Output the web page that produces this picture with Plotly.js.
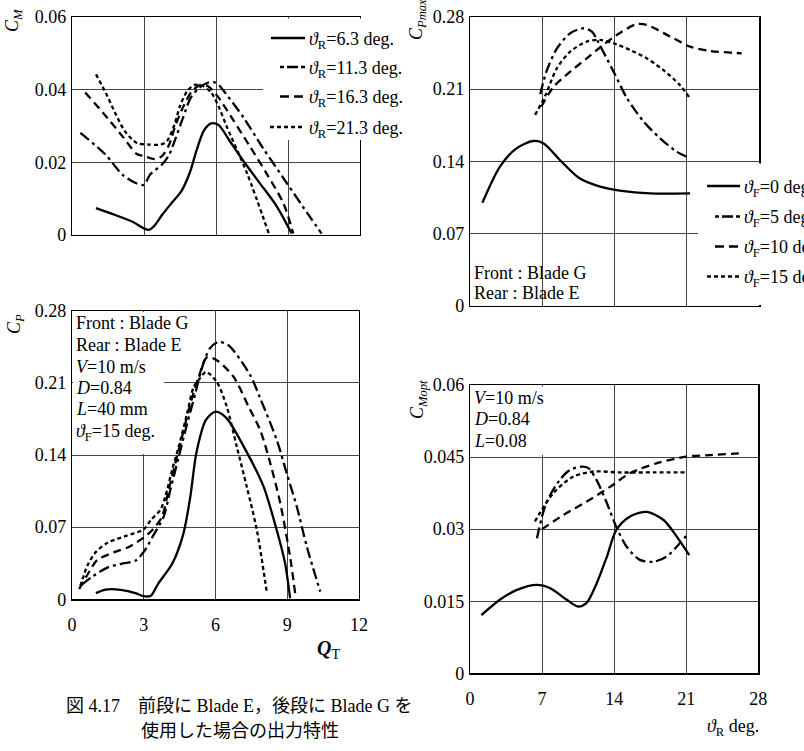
<!DOCTYPE html>
<html>
<head>
<meta charset="utf-8">
<script src="https://cdn.plot.ly/plotly-3.0.1.min.js"></script>
<style>html,body{margin:0;padding:0;background:#fff;}#chart{width:804px;height:751px;}</style>
</head>
<body>
<div id="chart"></div>
<script>
// ---------- DATA ----------
// Top-left: C_M vs Q_T
const qt_63  = [1.0, 1.8, 2.5, 3.0, 3.2, 3.4, 3.75, 4.15, 4.55, 4.9, 5.2, 5.5, 5.8, 6.1, 6.6, 7.15, 7.8, 8.5, 9.15];
const cm_63  = [0.0074, 0.0055, 0.0037, 0.0018, 0.0014, 0.0023, 0.0055, 0.0088, 0.012, 0.017, 0.0235, 0.0288, 0.0307, 0.0303, 0.0256, 0.0203, 0.0145, 0.0082, 0.0004];
const qt_113 = [0.35, 1.4, 2.1, 2.65, 3.0, 3.25, 3.75, 4.05, 4.3, 4.6, 4.95, 5.3, 5.65, 5.9, 6.1, 6.4, 7.15, 7.95, 8.95, 9.9, 10.4];
const cm_113 = [0.0281, 0.0221, 0.0166, 0.0143, 0.0138, 0.0166, 0.0194, 0.0221, 0.0263, 0.0318, 0.0378, 0.0405, 0.0419, 0.0421, 0.0414, 0.039, 0.0323, 0.024, 0.0143, 0.0051, 0.0004];
const qt_163 = [0.55, 1.3, 2.1, 2.7, 3.0, 3.45, 3.75, 4.05, 4.3, 4.65, 5.0, 5.35, 5.65, 6.03, 6.72, 7.42, 8.11, 8.81, 9.22];
const cm_163 = [0.0392, 0.0336, 0.0272, 0.0223, 0.0217, 0.0209, 0.0217, 0.0249, 0.03, 0.0355, 0.0396, 0.0413, 0.041, 0.0385, 0.0316, 0.0243, 0.0169, 0.0087, 0.0004];
const qt_213 = [1.0, 1.4, 1.8, 2.2, 2.7, 3.2, 3.7, 3.95, 4.25, 4.5, 4.8, 5.1, 5.45, 5.8, 6.1, 6.45, 7.3, 8.2];
const cm_213 = [0.0442, 0.0392, 0.0336, 0.0286, 0.0253, 0.0249, 0.0249, 0.0258, 0.03, 0.0355, 0.0396, 0.0413, 0.041, 0.0392, 0.0355, 0.0298, 0.0169, 0.0004];

// Bottom-left: C_P vs Q_T
const q2_63  = [1.0, 1.4, 2.1, 2.65, 3.0, 3.3, 3.6, 4.2, 4.65, 4.95, 5.2, 5.6, 6.0, 6.45, 7.3, 8.0, 8.55, 8.9, 9.12];
const cp_63  = [0.006, 0.0095, 0.009, 0.006, 0.003, 0.0035, 0.015, 0.035, 0.063, 0.1, 0.142, 0.174, 0.182, 0.176, 0.143, 0.11, 0.068, 0.036, 0.001];
const q2_113 = [0.4, 0.85, 1.5, 2.2, 2.65, 3.0, 3.4, 3.83, 4.11, 4.46, 4.81, 5.16, 5.4, 5.75, 6.12, 6.54, 7.45, 7.87, 8.57, 8.98, 9.4, 9.82, 10.38];
const cp_113 = [0.014, 0.022, 0.031, 0.035, 0.0375, 0.046, 0.062, 0.08, 0.106, 0.138, 0.17, 0.2, 0.222, 0.243, 0.2497, 0.2465, 0.2175, 0.195, 0.154, 0.122, 0.0898, 0.051, 0.0074];
const q2_163 = [0.3, 0.7, 1.05, 1.8, 2.4, 3.0, 3.35, 3.76, 4.04, 4.32, 4.67, 4.95, 5.3, 5.65, 6.05, 6.75, 7.38, 7.87, 8.29, 8.71, 9.12, 9.33];
const cp_163 = [0.01, 0.026, 0.038, 0.046, 0.051, 0.06, 0.067, 0.08, 0.106, 0.132, 0.164, 0.19, 0.216, 0.235, 0.232, 0.216, 0.187, 0.164, 0.132, 0.093, 0.041, 0.006];
const q2_213 = [0.35, 0.65, 1.0, 1.5, 2.2, 3.0, 3.3, 3.7, 3.9, 4.18, 4.46, 4.81, 5.09, 5.37, 5.6, 6.05, 6.47, 6.89, 7.31, 7.73, 8.15];
const cp_213 = [0.013, 0.033, 0.046, 0.055, 0.061, 0.068, 0.077, 0.087, 0.0995, 0.125, 0.148, 0.18, 0.206, 0.215, 0.2206, 0.211, 0.187, 0.148, 0.109, 0.067, 0.006];

// Top-right: C_Pmax vs theta_R
const th_f0  = [1.2, 2.9, 4.5, 6.1, 7.1, 8.7, 10.6, 12.6, 14.5, 17.4, 21.3];
const cpm_f0 = [0.1, 0.135, 0.1526, 0.1597, 0.1575, 0.1413, 0.1236, 0.1155, 0.1117, 0.109, 0.109];
const th_f5  = [6.8, 7.4, 8.4, 9.7, 11.0, 11.8, 12.3, 12.9, 13.9, 15.2, 16.8, 18.4, 20.0, 21.3];
const cpm_f5 = [0.205, 0.227, 0.249, 0.264, 0.2688, 0.2656, 0.2575, 0.246, 0.2268, 0.201, 0.1785, 0.1623, 0.1494, 0.143];
const th_f10 = [6.9, 8.1, 9.7, 11.3, 12.9, 14.2, 16.1, 17.1, 19.4, 21.3, 23.2, 26.3];
const cpm_f10= [0.193, 0.2123, 0.2268, 0.2397, 0.2527, 0.2623, 0.2727, 0.272, 0.2607, 0.251, 0.2469, 0.2446];
const th_f15 = [6.3, 7.3, 8.4, 9.7, 11.3, 12.6, 13.9, 15.5, 17.1, 18.7, 20.3, 21.3];
const cpm_f15= [0.185, 0.204, 0.23, 0.2462, 0.2559, 0.2575, 0.2543, 0.2478, 0.2397, 0.2285, 0.214, 0.201];

// Bottom-right: C_Mopt vs theta_R
const tb_f0  = [1.1, 2.9, 4.5, 6.5, 7.8, 9.4, 10.5, 11.3, 12.3, 13.3, 14.2, 15.5, 17.2, 18.8, 20.1, 21.3];
const cmo_f0 = [0.0121, 0.0153, 0.0173, 0.0184, 0.0177, 0.0153, 0.0139, 0.0146, 0.0187, 0.0243, 0.0298, 0.0326, 0.0336, 0.0319, 0.0284, 0.0246];
const tb_f5  = [6.5, 7.4, 8.7, 9.7, 10.8, 11.5, 12.3, 13.3, 14.2, 15.2, 16.5, 17.8, 19.1, 20.4, 21.2];
const cmo_f5 = [0.0281, 0.0354, 0.0402, 0.0423, 0.043, 0.0427, 0.0402, 0.0354, 0.0305, 0.0264, 0.0236, 0.0232, 0.0243, 0.0271, 0.0291];
const tb_f10 = [7.0, 9.1, 11.3, 13.6, 15.5, 18.1, 21.0, 23.3, 26.4];
const cmo_f10= [0.03, 0.033, 0.0357, 0.0388, 0.0416, 0.0437, 0.0451, 0.0454, 0.0458];
const tb_f15 = [6.3, 8.1, 10.0, 12.0, 14.5, 17.8, 21.0];
const cmo_f15= [0.0316, 0.0375, 0.0409, 0.042, 0.0418, 0.0418, 0.0418];

const legendR = ['=6.3 deg.', '=11.3 deg.', '=16.3 deg.', '=21.3 deg.'];
const legendF = ['=0 deg.', '=5 deg.', '=10 deg.', '=15 deg.'];

// ---------- STYLE ----------
const FONT = 'Liberation Serif';
const CJKFONT = 'Liberation Serif, Noto Sans CJK JP';
const W = 804, H = 751;
const px = x => x / W;
const py = y => 1 - y / H;
const SOLID = 'solid', DASHDOT = '11px,4px,3px,4px', DASHED = '8px,5px', DOTTED = '4px,3px';
const LW = 2.3;

function tr(x, y, dash, xa, ya) {
  return {x: x, y: y, xaxis: xa, yaxis: ya, type: 'scatter', mode: 'lines',
    line: {color: '#000', width: LW, dash: dash, shape: 'spline', smoothing: 0.8},
    showlegend: false, hoverinfo: 'skip'};
}

const data = [
  tr(qt_63, cm_63, SOLID, 'x', 'y'), tr(qt_113, cm_113, DASHDOT, 'x', 'y'),
  tr(qt_163, cm_163, DASHED, 'x', 'y'), tr(qt_213, cm_213, DOTTED, 'x', 'y'),
  tr(q2_63, cp_63, SOLID, 'x2', 'y2'), tr(q2_113, cp_113, DASHDOT, 'x2', 'y2'),
  tr(q2_163, cp_163, DASHED, 'x2', 'y2'), tr(q2_213, cp_213, DOTTED, 'x2', 'y2'),
  tr(th_f0, cpm_f0, SOLID, 'x3', 'y3'), tr(th_f5, cpm_f5, DASHDOT, 'x3', 'y3'),
  tr(th_f10, cpm_f10, DASHED, 'x3', 'y3'), tr(th_f15, cpm_f15, DOTTED, 'x3', 'y3'),
  tr(tb_f0, cmo_f0, SOLID, 'x4', 'y4'), tr(tb_f5, cmo_f5, DASHDOT, 'x4', 'y4'),
  tr(tb_f10, cmo_f10, DASHED, 'x4', 'y4'), tr(tb_f15, cmo_f15, DOTTED, 'x4', 'y4')
];

function ax(domain, range, dtick, labels, anchor, isX) {
  const a = {domain: domain, range: range, dtick: dtick, tick0: 0, anchor: anchor,
    showgrid: true, gridcolor: '#444', gridwidth: 1, zeroline: false,
    showline: true, mirror: true, linecolor: '#000', linewidth: 1.2,
    ticks: '', showticklabels: labels, fixedrange: true,
    tickfont: {family: FONT, size: 18, color: '#000'}};
  a.ticklabelstandoff = isX ? 9 : 1;
  return a;
}

const layout = {
  width: W, height: H, margin: {l: 0, r: 0, t: 0, b: 0},
  paper_bgcolor: '#fff', plot_bgcolor: '#fff', showlegend: false,
  font: {family: FONT, size: 18, color: '#000'},
  xaxis:  ax([px(72), px(360)], [0, 12], 3, false, 'y', true),
  yaxis:  ax([py(235), py(17)], [0, 0.06], 0.02, true, 'x', false),
  xaxis2: ax([px(72), px(359)], [0, 12], 3, true, 'y2', true),
  yaxis2: ax([py(599.3), py(310.7)], [0, 0.28], 0.07, true, 'x2', false),
  xaxis3: ax([px(470), px(759.3)], [0, 28], 7, false, 'y3', true),
  yaxis3: ax([py(306), py(16.7)], [0, 0.28], 0.07, true, 'x3', false),
  xaxis4: ax([px(470), px(758.3)], [0, 28], 7, true, 'y4', true),
  yaxis4: ax([py(673.3), py(385)], [0, 0.06], 0.015, true, 'x4', false),
  shapes: [],
  annotations: []
};

const S = layout.shapes, A = layout.annotations;
function rect(x0, y0, x1, y1) {
  S.push({type: 'rect', xref: 'paper', yref: 'paper', x0: px(x0), x1: px(x1), y0: py(y1), y1: py(y0),
    fillcolor: '#fff', line: {width: 0}, layer: 'above'});
}
function seg(x0, x1, y, dash) {
  S.push({type: 'line', xref: 'paper', yref: 'paper', x0: px(x0), x1: px(x1), y0: py(y), y1: py(y),
    line: {color: '#000', width: LW, dash: dash}, layer: 'above'});
}
function txt(t, x, y, opts) {
  A.push(Object.assign({text: t, xref: 'paper', yref: 'paper', x: px(x), y: py(y),
    xanchor: 'left', yanchor: 'middle', showarrow: false,
    font: {family: FONT, size: 18, color: '#000'}}, opts || {}));
}

// white areas under the text blocks (hide grid)
rect(263, 18.5, 363, 140);     // top-left legend
rect(73, 312, 164, 454);       // bottom-left text
rect(698, 163.5, 763, 305);    // top-right legend
rect(471, 386.5, 560, 455);    // bottom-right text

// top-left legend
const rowsL = [38, 67, 96.5, 127];
const startL = [271, 280, 280, 270];
const legDash = [SOLID, '4px,3px,11px,3px', '9px,5px', DOTTED];
rowsL.forEach((yy, i) => {
  seg(startL[i], 305, yy, legDash[i]);
  txt('<i>ϑ</i><sub>R</sub>' + legendR[i], 307, yy + 2);
});
// top-right legend (cut off at the right edge as in the source figure)
const rowsR = [186, 216.5, 246.5, 276.5];
const startR = [707, 715, 715, 707];
rowsR.forEach((yy, i) => {
  seg(startR[i], 740, yy, legDash[i]);
  txt('<i>ϑ</i><sub>F</sub>' + legendF[i], 742, yy + 2);
});

// text blocks
const blBlock = ['Front : Blade G', 'Rear : Blade E', '<i>V</i>=10 m/s', '<i>D</i>=0.84', '<i>L</i>=40 mm', '<i>ϑ</i><sub>F</sub>=15 deg.'];
const blY = [323, 345, 367, 388, 409, 432];
blBlock.forEach((t, i) => txt(t, 74, blY[i]));
txt('Front : Blade G', 472, 273);
txt('Rear : Blade E', 472, 293);
const brBlock = ['<i>V</i>=10 m/s', '<i>D</i>=0.84', '<i>L</i>=0.08'];
const brY = [398, 419.5, 441];
brBlock.forEach((t, i) => txt(t, 472, brY[i]));

// axis titles
const rot = {textangle: -90, xanchor: 'center', yanchor: 'middle'};
txt('<i>C</i><sub><i>M</i></sub>', 14, 20, rot);
txt('<i>C</i><sub><i>P</i></sub>', 15, 324, rot);
txt('<i>C</i><sub><i>Pmax</i></sub>', 418, 20, rot);
txt('<i>C</i><sub><i>Mopt</i></sub>', 418, 400, rot);
txt('<b><i>Q</i></b><sub>T</sub>', 328, 649, {xanchor: 'center', font: {family: FONT, size: 20, color: '#000'}});
txt('<i>ϑ</i><sub>R</sub> deg.', 733, 727, {xanchor: 'center'});

// caption
txt('図 4.17　前段に Blade E，後段に Blade G を', 64, 706, {font: {family: CJKFONT, size: 18, color: '#000'}});
txt('使用した場合の出力特性', 139, 731, {font: {family: CJKFONT, size: 18, color: '#000'}});

Plotly.newPlot('chart', data, layout, {staticPlot: true, displayModeBar: false});
</script>
</body>
</html>
